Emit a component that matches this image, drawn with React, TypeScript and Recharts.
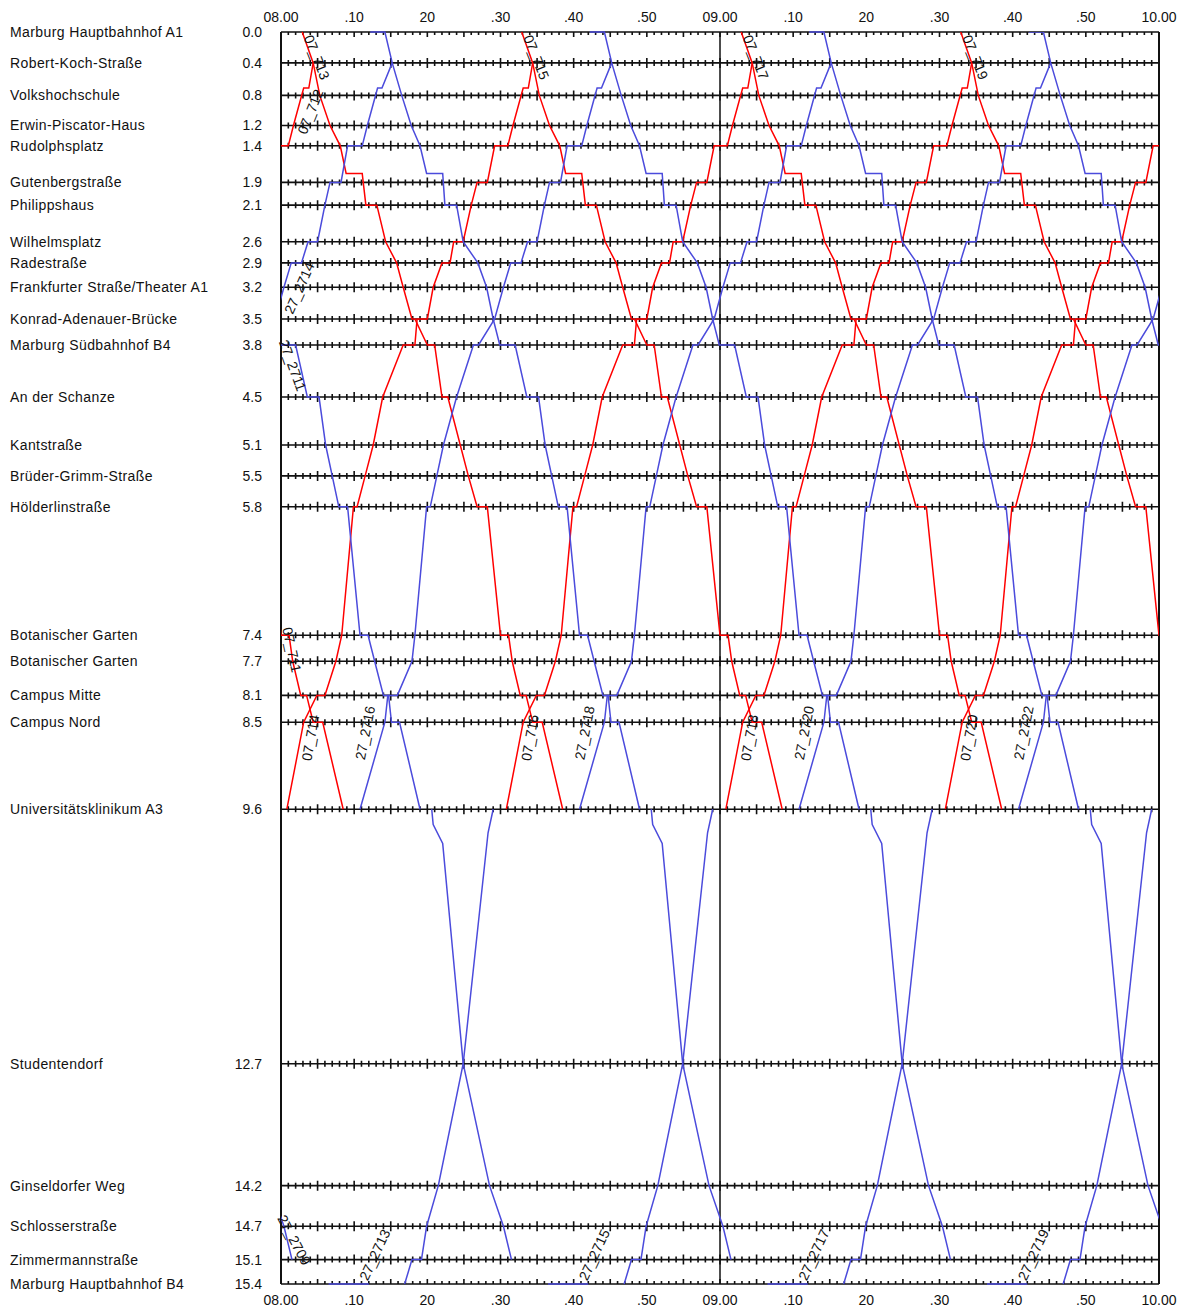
import { LineChart, Line, XAxis, YAxis, CartesianGrid, ReferenceLine, ReferenceDot } from "recharts";

// stations, top to bottom
const STATIONS = [
  "Marburg Hauptbahnhof A1",
  "Robert-Koch-Straße",
  "Volkshochschule",
  "Erwin-Piscator-Haus",
  "Rudolphsplatz",
  "Gutenbergstraße",
  "Philippshaus",
  "Wilhelmsplatz",
  "Radestraße",
  "Frankfurter Straße/Theater A1",
  "Konrad-Adenauer-Brücke",
  "Marburg Südbahnhof B4",
  "An der Schanze",
  "Kantstraße",
  "Brüder-Grimm-Straße",
  "Hölderlinstraße",
  "Botanischer Garten",
  "Botanischer Garten",
  "Campus Mitte",
  "Campus Nord",
  "Universitätsklinikum A3",
  "Studentendorf",
  "Ginseldorfer Weg",
  "Schlosserstraße",
  "Zimmermannstraße",
  "Marburg Hauptbahnhof B4",
];
const STATION_KM_LABELS = [
  "0.0", "0.4", "0.8", "1.2", "1.4", "1.9", "2.1", "2.6", "2.9", "3.2", "3.5", "3.8", "4.5",
  "5.1", "5.5", "5.8", "7.4", "7.7", "8.1", "8.5", "9.6", "12.7", "14.2", "14.7", "15.1", "15.4",
];
const STATION_KM = [
  0, 0.38, 0.78, 1.15, 1.4, 1.85, 2.13, 2.58, 2.84, 3.14, 3.53, 3.85, 4.49,
  5.08, 5.46, 5.84, 7.42, 7.74, 8.16, 8.49, 9.56, 12.69, 14.19, 14.69, 15.1, 15.4,
];

// minutes after 08:00
const TIME_TICKS = [0, 10, 20, 30, 40, 50, 60, 70, 80, 90, 100, 110, 120];
const TIME_LABELS = ["08.00", ".10", "20", ".30", ".40", ".50", "09.00", ".10", "20", ".30", ".40", ".50", "10.00"];

// run profiles [km, minute], null = break in the drawn path
type Pt = [number, number] | null;

const RED_DOWN_PROFILE: Pt[] = [
  [0, 2.9], [0.38, 4.4], [0.78, 5.3], [1.15, 6.7], [1.4, 8.1], [1.74, 8.9], [1.74, 11.1],
  [2.13, 11.6], [2.13, 13.1], [2.58, 14.3], [2.84, 15.8], [3.14, 16.7], [3.53, 17.9], [3.53, 18.3],
  [3.85, 20.0], [3.85, 21.0], [4.49, 22.0], [4.49, 22.8], [5.08, 24.5], [5.46, 25.6],
  [5.84, 26.8], [5.84, 28.2], [7.42, 30.0], [7.42, 31.1], [7.74, 31.6], [8.16, 32.7], [8.16, 33.5],
  [8.49, 34.4], [8.49, 35.7], [9.56, 38.5],
];
const RED_DOWN_STARTS = [-30, 0, 30, 60, 90];

const RED_UP_PROFILE: Pt[] = [
  [9.56, 0.8], [8.49, 3.1], [8.16, 4.9], [8.16, 6.0], [7.74, 7.5], [7.42, 8.3], [5.84, 9.9], [5.84, 10.4],
  [5.46, 11.5], [5.08, 12.6], [4.49, 13.9], [3.85, 16.7], [3.85, 18.3], [3.53, 18.6], [3.53, 20.0],
  [3.14, 20.8], [2.84, 22.0], [2.84, 23.1], [2.58, 23.6], [2.58, 24.9], [2.13, 26.0], [1.85, 26.8],
  [1.85, 28.2], [1.4, 29.2], [1.4, 31.0], [1.15, 31.7], [0.69, 33.1], [0.69, 33.8], [0.38, 34.4],
];
const RED_UP_STARTS = [-30, 0, 30, 60, 90];

const BLUE_DOWN_PROFILE: Pt[] = [
  [0, 12.2], [0, 14.2], [0.38, 15.2], [0.78, 16.5], [1.15, 17.8], [1.4, 19.0], [1.74, 19.9], [1.74, 22.1],
  [2.13, 22.4], [2.13, 24.0], [2.58, 24.9], [2.84, 26.9], [3.14, 28.1], [3.53, 29.0], [3.85, 29.9],
  [3.85, 32.0], [4.49, 33.6], [4.49, 35.2], [5.08, 36.1], [5.46, 37.0], [5.84, 37.9], [5.84, 39.1],
  [7.42, 40.8], [7.42, 41.9], [7.74, 42.8], [8.16, 44.0], [8.16, 44.7], [8.49, 45.1], [8.49, 46.2],
  [9.56, 49.0],
  null,
  [9.56, 50.6], [9.75, 50.8], [9.98, 52.1], [12.69, 54.9], [14.19, 58.5], [14.69, 60.4], [15.1, 61.5],
  null,
  [15.4, 66.5], [15.4, 72.0],
];
const BLUE_DOWN_STARTS = [-60, -30, 0, 30, 60, 90];

const BLUE_UP_PROFILE: Pt[] = [
  [15.4, 16.9], [15.1, 17.9], [15.1, 19.2], [14.69, 19.9], [14.19, 21.5], [12.69, 24.9], [9.85, 28.3],
  [9.56, 29.0],
  null,
  [9.56, 40.8], [8.49, 44.2], [8.16, 44.6], [8.16, 45.9], [7.74, 47.9], [7.42, 48.3], [5.84, 49.9],
  [5.84, 50.4], [5.46, 51.3], [5.08, 52.2], [4.49, 54.0], [3.85, 56.3], [3.85, 57.0], [3.53, 59.2],
  [3.14, 60.4], [2.84, 61.4], [2.84, 62.8], [2.58, 63.7], [2.58, 65.0], [2.13, 66.0], [1.85, 66.7],
  [1.85, 68.2], [1.4, 69.1], [1.4, 71.1], [1.15, 71.8], [0.69, 73.2], [0.69, 73.8], [0.38, 75.2],
];
const BLUE_UP_STARTS = [-60, -30, 0, 30, 60, 90];

// trip labels: text, minute, km, angle
const TRIP_LABELS: [string, number, number, number][] = [
  ["07_711", 1.5, 7.6, 78],
  ["07_713", 4.9, 0.31, 68],
  ["07_715", 34.9, 0.31, 68],
  ["07_717", 64.9, 0.31, 68],
  ["07_719", 94.9, 0.31, 68],
  ["07_712", 4.0, 0.98, -68],
  ["07_714", 4.0, 8.68, -80],
  ["07_716", 34.0, 8.68, -80],
  ["07_718", 64.0, 8.68, -80],
  ["07_720", 94.0, 8.68, -80],
  ["27_2716", 11.5, 8.62, -79],
  ["27_2718", 41.5, 8.62, -79],
  ["27_2720", 71.5, 8.62, -79],
  ["27_2722", 101.5, 8.62, -79],
  ["27_2714", 2.5, 3.15, -66],
  ["27_2711", 1.6, 4.1, 70],
  ["27_2709", 1.8, 14.86, 62],
  ["27_2713", 12.8, 15.04, -65],
  ["27_2715", 42.8, 15.04, -65],
  ["27_2717", 72.8, 15.04, -65],
  ["27_2719", 102.8, 15.04, -65],
];

const RED = "#ff0000";
const BLUE = "#4b4bdc";
const FONT = "'Liberation Sans', Arial, sans-serif";

type P = { t: number; km: number };

function buildSegments(profile: Pt[], starts: number[]) {
  const segs: P[][] = [];
  starts.forEach((s) => {
    let cur: P[] = [];
    profile.forEach((p) => {
      if (p === null) {
        if (cur.length) segs.push(cur);
        cur = [];
      } else {
        cur.push({ t: p[1] + s, km: p[0] });
      }
    });
    if (cur.length) segs.push(cur);
  });
  return segs;
}

const SERIES = [
  ...buildSegments(RED_DOWN_PROFILE, RED_DOWN_STARTS).map((d) => ({ d, c: RED })),
  ...buildSegments(RED_UP_PROFILE, RED_UP_STARTS).map((d) => ({ d, c: RED })),
  ...buildSegments(BLUE_DOWN_PROFILE, BLUE_DOWN_STARTS).map((d) => ({ d, c: BLUE })),
  ...buildSegments(BLUE_UP_PROFILE, BLUE_UP_STARTS).map((d) => ({ d, c: BLUE })),
]
  .filter((s) => s.d.some((p) => p.t >= 0) && s.d.some((p) => p.t <= 120))
  // trips fully inside the time window need no clipping (keeps dwells on the border lines visible)
  .map((s) => ({ ...s, inside: s.d.every((p) => p.t >= 0 && p.t <= 120) }));

// station line with minute ticks
const StationLine = (props: any) => {
  const { x1, x2, y1, index } = props;
  const last = STATION_KM.length - 1;
  let d = `M${x1},${y1}H${x2}`;
  for (let m = 0; m <= 120; m++) {
    const x = x1 + ((x2 - x1) * m) / 120;
    const len = m % 5 === 0 ? 5 : 3;
    const top = index === 0 ? y1 : y1 - len;
    const bottom = index === last ? y1 : y1 + len;
    d += `M${x},${top}V${bottom}`;
  }
  return <path key={`st-${index}`} d={d} stroke="#111" strokeWidth={1.6} fill="none" />;
};

const StationTick = (props: any) => {
  const { y, payload } = props;
  const i = STATION_KM.indexOf(payload.value);
  return (
    <g fontFamily={FONT} fontSize={14} fill="#111">
      <text x={10} y={y} dominantBaseline="central" letterSpacing={0.4}>{STATIONS[i]}</text>
      <text x={262} y={y} textAnchor="end" dominantBaseline="central">{STATION_KM_LABELS[i]}</text>
    </g>
  );
};

const TimeTick = (props: any) => {
  const { x, payload, top } = props;
  const i = TIME_TICKS.indexOf(payload.value);
  return (
    <text x={x} y={top ? 22 : 1305} textAnchor="middle" fontFamily={FONT} fontSize={14} fill="#111">
      {TIME_LABELS[i]}
    </text>
  );
};

const TripLabel = (text: string, angle: number) => (props: any) => {
  const { cx, cy } = props;
  return (
    <text
      x={cx}
      y={cy}
      transform={`rotate(${angle} ${cx} ${cy})`}
      textAnchor="middle"
      dominantBaseline="central"
      fontFamily={FONT}
      fontSize={14}
      fill="#111"
    >
      {text}
    </text>
  );
};

export default function App() {
  return (
    <div style={{ position: "absolute", left: 0, top: 0, background: "#fff" }}>
      <LineChart width={1191} height={1309} margin={{ top: 0, right: 32, bottom: 0, left: 0 }}>
        <CartesianGrid horizontal={StationLine} vertical={false} />
        <XAxis
          xAxisId="top"
          orientation="top"
          type="number"
          dataKey="t"
          domain={[0, 120]}
          ticks={TIME_TICKS}
          interval={0}
          height={32}
          axisLine={false}
          tickLine={false}
          allowDataOverflow
          tick={(p: any) => <TimeTick {...p} top />}
        />
        <XAxis
          type="number"
          dataKey="t"
          domain={[0, 120]}
          ticks={TIME_TICKS}
          interval={0}
          height={25}
          axisLine={false}
          tickLine={false}
          allowDataOverflow
          tick={(p: any) => <TimeTick {...p} />}
        />
        <XAxis xAxisId="free" type="number" dataKey="t" domain={[0, 120]} hide />
        <YAxis
          type="number"
          dataKey="km"
          domain={[0, 15.4]}
          reversed
          ticks={STATION_KM}
          interval={0}
          width={281}
          axisLine={false}
          tickLine={false}
          allowDataOverflow
          tick={StationTick}
        />
        <YAxis yAxisId="free" type="number" dataKey="km" domain={[0, 15.4]} reversed hide />
        <ReferenceLine x={0} stroke="#111" strokeWidth={2} />
        <ReferenceLine x={60} stroke="#111" strokeWidth={1.5} />
        <ReferenceLine x={120} stroke="#111" strokeWidth={2} />
        {SERIES.map((s, i) => (
          <Line
            key={`trip-${i}`}
            data={s.d}
            dataKey="km"
            xAxisId={s.inside ? "free" : 0}
            yAxisId={s.inside ? "free" : 0}
            stroke={s.c}
            strokeWidth={1.5}
            dot={false}
            activeDot={false}
            isAnimationActive={false}
          />
        ))}
        {TRIP_LABELS.map(([text, t, km, angle]) => (
          <ReferenceDot key={text} x={t} y={km} r={0} shape={TripLabel(text, angle)} />
        ))}
      </LineChart>
    </div>
  );
}
